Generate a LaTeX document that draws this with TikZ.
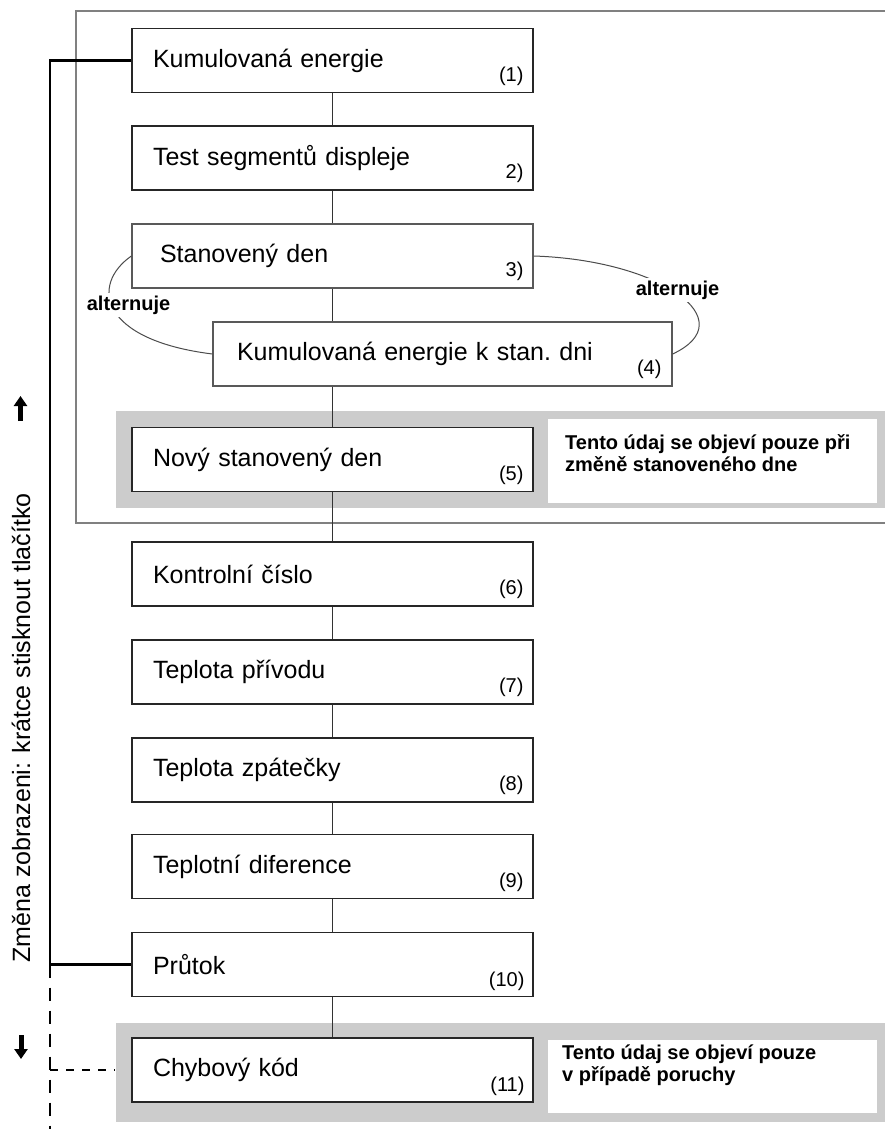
\documentclass[tikz,border=0pt]{standalone}
\usepackage{fontspec}
\setmainfont{Liberation Sans}
\usetikzlibrary{shapes,arrows.meta,positioning}
\tikzstyle{box} = [rectangle, draw=black!85, line width=1.3pt, fill=white,
    minimum width=401pt, minimum height=64pt, text width=359pt,
    inner xsep=21pt, align=left, font=\fontsize{25}{30}\selectfont]
\tikzstyle{num} = [anchor=east, inner sep=0pt, font=\fontsize{20}{22}\selectfont]
\tikzstyle{alt} = [fill=white, inner sep=3pt, font=\bfseries\fontsize{20}{24}\selectfont]
\tikzstyle{notebox} = [rectangle, fill=white, anchor=north west,
    minimum width=329pt, minimum height=84pt]
\tikzstyle{note} = [anchor=north west, inner sep=0pt, align=left,
    font=\bfseries\fontsize{20}{22}\selectfont]
\tikzstyle{line} = [draw=black!80, line width=1pt]
\tikzstyle{curve} = [draw=black!70, line width=1pt]
\tikzstyle{rail} = [draw=black, line width=2.8pt]
\tikzstyle{pointer} = [line width=5pt, -{Triangle[length=10pt,width=13pt]}]

\begin{document}
\begin{tikzpicture}[x=1pt, y=-1pt, node distance=98pt]
  \fill[white] (0,0) rectangle (884,1129);
  \useasboundingbox (0,0) rectangle (884,1129);
  % grey bands and frame
  \fill[black!20] (116,411) rectangle (890,508);
  \fill[black!20] (116,1023) rectangle (890,1122);
  \draw[draw=black!50, line width=2.2pt] (890,11) -- (76,11) -- (76,523) -- (890,523);
  % Place nodes
  \node [box] (b1) at (332.5,60.5) {Kumulovaná energie};
  \node [box, below of=b1, node distance=97.5pt] (b2) {Test segmentů displeje};
  \node [box, below of=b2, draw=black!65, inner xsep=28pt, text width=345pt] (b3)
  {Stanovený den};
  \node [box, below of=b3, xshift=110pt, draw=black!65, inner xsep=24pt,
  text width=411pt] (b4) {Kumulovaná energie k stan.\ dni};
  \node [box, below of=b3, node distance=203.5pt] (b5) {Nový stanovený den};
  \node [box, below of=b5, node distance=114.5pt] (b6) {Kontrolní číslo};
  \node [box, below of=b6] (b7) {Teplota přívodu};
  \node [box, below of=b7] (b8) {Teplota zpátečky};
  \node [box, below of=b8, node distance=96.5pt] (b9) {Teplotní diference};
  \node [box, below of=b9] (b10) {Průtok};
  \node [box, below of=b10, node distance=105.5pt] (b11) {Chybový kód};
  % numbers
  \node [num] (n1) at ([xshift=-10pt,yshift=17pt]b1.south east) {(1)};
  \node [num] (n2) at ([xshift=-10pt,yshift=17pt]b2.south east) {2)};
  \node [num] (n3) at ([xshift=-10pt,yshift=17pt]b3.south east) {3)};
  \node [num] (n4) at ([xshift=-11pt,yshift=17pt]b4.south east) {(4)};
  \node [num] (n5) at ([xshift=-10pt,yshift=17pt]b5.south east) {(5)};
  \node [num] (n6) at ([xshift=-10pt,yshift=17pt]b6.south east) {(6)};
  \node [num] (n7) at ([xshift=-10pt,yshift=17pt]b7.south east) {(7)};
  \node [num] (n8) at ([xshift=-10pt,yshift=17pt]b8.south east) {(8)};
  \node [num] (n9) at ([xshift=-10pt,yshift=17pt]b9.south east) {(9)};
  \node [num] (n10) at ([xshift=-9pt,yshift=16pt]b10.south east) {(10)};
  \node [num] (n11) at ([xshift=-9pt,yshift=16pt]b11.south east) {(11)};
  % notes
  \node [notebox] (nb5) at (548,419) {};
  \node [note] (t5) at (565,434) {Tento údaj se objeví pouze při\\změně stanoveného dne};
  \node [notebox, minimum height=73pt] (nb11) at (548,1040) {};
  \node [note] (t11) at (562,1045) {Tento údaj se objeví pouze\\v případě poruchy};
  % Draw edges
  \draw [line] (b1) -- (b2);
  \draw [line] (b2) -- (b3);
  \draw [line] (b3.south) -- (b3.south |- b4.north);
  \draw [line] (b5.north |- b4.south) -- (b5.north);
  \draw [line] (b5) -- (b6);
  \draw [line] (b6) -- (b7);
  \draw [line] (b7) -- (b8);
  \draw [line] (b8) -- (b9);
  \draw [line] (b9) -- (b10);
  \draw [line] (b10) -- (b11);
  % alternation
  \draw [curve] (b3.west) .. controls (90,285) and (100,340) .. (b4.west);
  \draw [curve] (b3.east) .. controls (660,260) and (745,320) .. (b4.east);
  \node [alt] (altL) at (128.5,305) {alternuje};
  \node [alt] (altR) at (677.5,290) {alternuje};
  % left rail
  \coordinate (railtop) at (50,0);
  \coordinate (railend) at (50,1129);
  \draw [rail] (b1.west) -- (b1.west -| railtop) -- (b10.west -| railtop) -- (b10.west);
  \draw [rail, dash pattern=on 13pt off 10pt] (b10.west -| railtop) -- (railend);
  \draw [rail, dash pattern=on 8pt off 8pt] (b11.west -| railtop) -- ([xshift=-16pt]b11.west);
  \node [rotate=90, font=\fontsize{25}{30}\selectfont] (hint) at (21,728)
  {Změna zobrazeni: krátce stisknout tlačítko};
  \coordinate (upA) at (20.5,421);
  \coordinate (upB) at (20.5,396);
  \coordinate (downA) at (21,1035);
  \coordinate (downB) at (21,1059);
  \draw [pointer] (upA) -- (upB);
  \draw [pointer] (downA) -- (downB);
\end{tikzpicture}
\end{document}
